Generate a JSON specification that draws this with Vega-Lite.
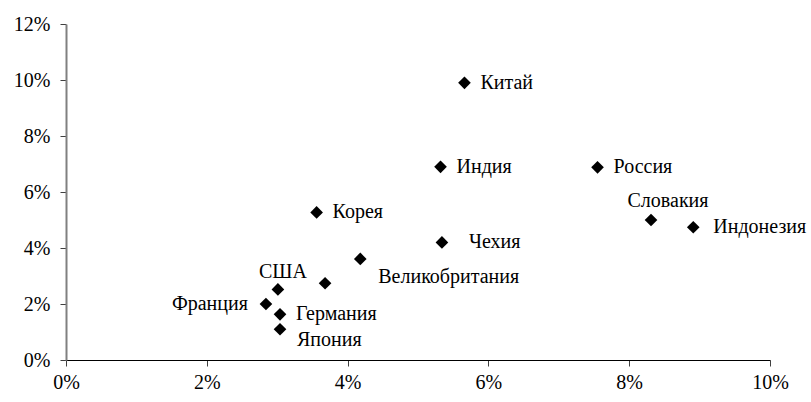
{
  "$schema": "https://vega.github.io/schema/vega-lite/v6.json",
  "width": 704,
  "height": 336,
  "autosize": "none",
  "padding": {"left": 66, "top": 24, "right": 41, "bottom": 42},
  "background": "white",
  "config": {
    "view": {"stroke": null},
    "font": "'Liberation Serif', 'Times New Roman', serif",
    "text": {"font": "'Liberation Serif', 'Times New Roman', serif", "fontSize": 20, "color": "black", "baseline": "middle"}
  },
  "data": {
    "values": [
      {"country": "Китай", "x": 0.0566, "y": 0.0990},
      {"country": "Индия", "x": 0.0532, "y": 0.0690},
      {"country": "Россия", "x": 0.0755, "y": 0.0688},
      {"country": "Словакия", "x": 0.0831, "y": 0.0500},
      {"country": "Индонезия", "x": 0.0891, "y": 0.0474},
      {"country": "Корея", "x": 0.0356, "y": 0.0527},
      {"country": "Чехия", "x": 0.0534, "y": 0.0420},
      {"country": "Великобритания", "x": 0.0418, "y": 0.0361},
      {"country": "", "x": 0.0368, "y": 0.0274},
      {"country": "США", "x": 0.0301, "y": 0.0252},
      {"country": "Франция", "x": 0.0284, "y": 0.0200},
      {"country": "Германия", "x": 0.0304, "y": 0.0163},
      {"country": "Япония", "x": 0.0304, "y": 0.0110}
    ]
  },
  "encoding": {
    "x": {
      "field": "x", "type": "quantitative",
      "scale": {"domain": [0, 0.1], "nice": false, "zero": true},
      "axis": {
        "title": null, "format": ".0%", "values": [0, 0.02, 0.04, 0.06, 0.08, 0.1],
        "grid": false, "domainColor": "black", "domainWidth": 1.2,
        "tickColor": "#404040", "tickSize": 6, "labelPadding": 6,
        "labelFont": "'Liberation Serif', 'Times New Roman', serif", "labelFontSize": 20, "labelColor": "black",
        "labelFlush": false
      }
    },
    "y": {
      "field": "y", "type": "quantitative",
      "scale": {"domain": [0, 0.12], "nice": false},
      "axis": {
        "title": null, "format": ".0%", "values": [0, 0.02, 0.04, 0.06, 0.08, 0.1, 0.12],
        "grid": false, "domainColor": "#808080", "domainWidth": 2,
        "tickColor": "#404040", "tickSize": 6, "labelPadding": 10,
        "labelFont": "'Liberation Serif', 'Times New Roman', serif", "labelFontSize": 20, "labelColor": "black"
      }
    }
  },
  "layer": [
    {
      "mark": {"type": "point", "shape": "diamond", "filled": true, "color": "black", "size": 160, "opacity": 1}
    },
    {
      "transform": [{"filter": {"field": "country", "oneOf": ["Китай", "Индия", "Россия", "Корея", "Германия"]}}],
      "mark": {"type": "text", "align": "left", "dx": 16},
      "encoding": {"text": {"field": "country"}}
    },
    {
      "transform": [{"filter": {"field": "country", "equal": "Индонезия"}}],
      "mark": {"type": "text", "align": "left", "dx": 20},
      "encoding": {"text": {"field": "country"}}
    },
    {
      "transform": [{"filter": {"field": "country", "equal": "Чехия"}}],
      "mark": {"type": "text", "align": "left", "dx": 27},
      "encoding": {"text": {"field": "country"}}
    },
    {
      "transform": [{"filter": {"field": "country", "equal": "Словакия"}}],
      "mark": {"type": "text", "align": "center", "dx": 17, "dy": -19},
      "encoding": {"text": {"field": "country"}}
    },
    {
      "transform": [{"filter": {"field": "country", "equal": "Великобритания"}}],
      "mark": {"type": "text", "align": "left", "dx": 18, "dy": 18},
      "encoding": {"text": {"field": "country"}}
    },
    {
      "transform": [{"filter": {"field": "country", "equal": "США"}}],
      "mark": {"type": "text", "align": "center", "dx": 5, "dy": -17},
      "encoding": {"text": {"field": "country"}}
    },
    {
      "transform": [{"filter": {"field": "country", "equal": "Франция"}}],
      "mark": {"type": "text", "align": "right", "dx": -18},
      "encoding": {"text": {"field": "country"}}
    },
    {
      "transform": [{"filter": {"field": "country", "equal": "Япония"}}],
      "mark": {"type": "text", "align": "left", "dx": 17, "dy": 11},
      "encoding": {"text": {"field": "country"}}
    }
  ]
}
